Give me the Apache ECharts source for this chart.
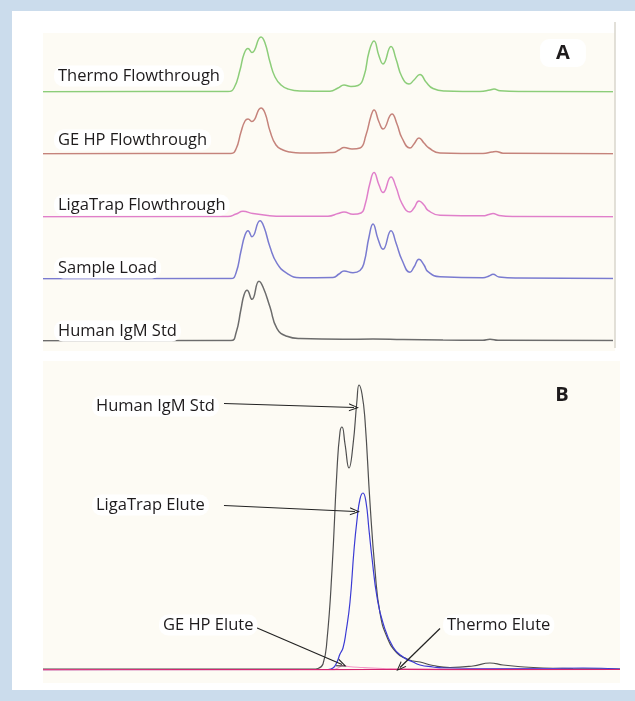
<!DOCTYPE html>
<html>
<head>
<meta charset="utf-8">
<script src="https://cdn.jsdelivr.net/npm/echarts@6/dist/echarts.min.js"></script>
<style>
  html, body { margin: 0; padding: 0; background: #cbdcec; }
  #chart { width: 635px; height: 701px; }
</style>
</head>
<body>
<div id="chart"></div>
<script>
// panel A: flowthrough traces, [time, absorbance]
const thermoFlowthrough = [
  [0, 0.3], [107, 0.5], [185, 0.5], [191, 4], [197, 22], [201, 38], [205, 43.5], [209, 39.5],
  [218, 55], [222, 49], [227, 30], [232, 15], [238, 7], [245, 3], [257, 1],
  [287, 0.8], [295, 4], [301, 7], [308, 5.5], [315, 6.5], [321, 16], [326, 40], [331, 51],
  [336, 36], [340, 28], [348, 45.5], [353, 33], [359, 15], [366, 8], [371, 12],
  [377, 17.5], [383, 10], [390, 3.5], [402, 1], [437, 0.5], [447, 2], [451, 3], [457, 1.2],
  [477, 0.5], [570, 0.3]
];
const gehpFlowthrough = [
  [0, 0.3], [107, 0.5], [188, 0.5], [193, 5], [198, 22], [202, 33], [205, 35], [209, 32.5],
  [218, 46], [222, 41], [227, 23], [233, 9], [240, 4], [247, 2], [257, 1],
  [290, 1.5], [296, 4], [301, 6.5], [309, 5], [317, 6], [323, 19], [328, 38], [331, 44],
  [336, 32], [340, 25], [349, 40], [354, 30], [359, 16], [367, 6], [371, 10],
  [376, 16], [381, 11], [386, 6], [397, 1], [440, 0.5], [449, 2], [453, 2.6], [460, 0.8],
  [570, 0.2]
];
const ligatrapFlowthrough = [
  [0, 0.3], [185, 0.5], [193, 3], [200, 5.7], [210, 3.4], [225, 1.5], [240, 0.8], [285, 0.8],
  [295, 3.5], [301, 5], [310, 2.7], [318, 4], [322, 12], [327, 34], [331, 44.4], [336, 32],
  [340, 24.4], [348, 40], [353, 30], [359, 13.4], [367, 5], [371, 9], [376, 16],
  [381, 12], [385, 6.7], [397, 1.7], [440, 1.2], [446, 2.5], [450, 3.4], [456, 1.5],
  [470, 0.5], [570, 0.3]
];
const sampleLoad = [
  [0, 0.3], [188, 0.5], [193, 6], [198, 28], [202, 44], [205, 48.3], [209, 42.3],
  [217, 58.3], [221, 52], [227, 32], [234, 15.7], [244, 5.7], [257, 1.3], [290, 1.5],
  [296, 5], [301, 8], [310, 6.3], [317, 8.5], [321, 16], [326, 42], [330, 55], [335, 40],
  [340, 29.7], [348, 48.3], [353, 36], [359, 19], [367, 6.7], [371, 12],
  [376, 19.7], [381, 14], [385, 7.3], [397, 2.3], [440, 1.3], [446, 3], [450, 4.7],
  [456, 2], [475, 1], [570, 0.5]
];
const humanIgmStdA = [
  [0, 0.3], [188, 0.5], [193, 8], [198, 32], [201, 46], [204, 50.7], [209, 41.7],
  [216, 59.7], [220, 54], [227, 34], [234, 12.4], [244, 4.7], [257, 2.4], [300, 1.7],
  [330, 2], [360, 1.5], [400, 1], [440, 0.8], [447, 1.8], [455, 0.8], [570, 0.5]
];

// panel B: elution traces
const humanIgmStdB = [
  [0, 0.8], [200, 0.8], [270, 0.8], [275, 1.5], [280, 6], [284, 30], [289, 100], [294, 200],
  [297, 238], [299, 243], [302, 226], [306, 202], [310, 225], [314, 270], [316, 285],
  [319, 276], [322, 250], [327, 167], [332, 100], [337, 57], [344, 33], [354, 17], [364, 11],
  [370, 9], [377, 8], [390, 4.5], [407, 2.5], [430, 4], [447, 7], [460, 5], [475, 3.5],
  [500, 2], [530, 1.5], [577, 1]
];
const ligatrapElute = [
  [0, 0.4], [285, 0.5], [290, 2], [294, 8], [297, 16], [300, 22], [303, 38], [307, 68],
  [311, 120], [314, 150], [317, 171], [320, 177], [323, 168], [326, 140], [329, 112],
  [334, 73], [340, 47], [350, 23], [360, 13], [370, 8], [377, 5], [390, 3], [400, 2],
  [450, 1.5], [500, 1.5], [540, 2], [577, 1]
];
const gehpElute = [
  [0, 0.3], [290, 0.3], [295, 2], [300, 4.5], [305, 3.5], [320, 2.5], [340, 1.5],
  [360, 0.8], [577, 0.5]
];
const thermoElute = [
  [0, 0.2], [150, 0.5], [300, 0.4], [360, 0.6], [450, 0.3], [577, 0.5]
];

const panelALabels = ['Thermo Flowthrough', 'GE HP Flowthrough', 'LigaTrap Flowthrough', 'Sample Load', 'Human IgM Std'];
const panelBLabels = ['Human IgM Std', 'LigaTrap Elute', 'GE HP Elute', 'Thermo Elute'];
// arrows: [label end, pointed peak] in panel B data units
const arrowCoords = [
  [[181, 266.5], [311, 262.5]],
  [[181, 164.5], [312, 158.5]],
  [[213, 42.5], [299, 5.5]],
  [[397, 41.5], [357, 2.5]]
];

const panelA = [thermoFlowthrough, gehpFlowthrough, ligatrapFlowthrough, sampleLoad, humanIgmStdA];
const colorsA = ['#8ccd79', '#c5837b', '#e07fca', '#7a7bd0', '#6c6c6c'];
const baselinesA = [92, 154, 217, 279, 341];

const panelB = [humanIgmStdB, ligatrapElute, gehpElute, thermoElute];
const colorsB = ['#4f4f4f', '#3b3bd4', '#f39ac6', '#d3256f'];

const font = '"Open Sans", "Noto Sans", sans-serif';
const chevron = 'path://M5,0 L10,10 L8.6,10 L5,2.6 L1.4,10 L0,10 Z';

const grids = [];
const xAxes = [];
const yAxes = [];
const series = [];

panelA.forEach((trace, i) => {
  grids.push({ left: 43, width: 570, top: baselinesA[i] - 60, height: 60 });
  xAxes.push({ type: 'value', gridIndex: i, min: 0, max: 570, show: false });
  yAxes.push({ type: 'value', gridIndex: i, min: 0, max: 60, show: false });
  series.push({
    type: 'line', xAxisIndex: i, yAxisIndex: i, data: trace,
    smooth: 0.5, showSymbol: false,
    lineStyle: { color: colorsA[i], width: 1.5 }
  });
});

const bIdx = panelA.length;
grids.push({ left: 43, width: 577, top: 375, height: 295 });
xAxes.push({ type: 'value', gridIndex: bIdx, min: 0, max: 577, show: false });
yAxes.push({ type: 'value', gridIndex: bIdx, min: 0, max: 295, show: false });
panelB.forEach((trace, i) => {
  series.push({
    type: 'line', xAxisIndex: bIdx, yAxisIndex: bIdx, data: trace,
    smooth: 0.5, showSymbol: false,
    lineStyle: { color: colorsB[i], width: 1.2 }
  });
});
// arrows ride on the last panel B series
series[series.length - 1].markLine = {
  silent: true,
  symbol: ['none', chevron],
  symbolSize: [8, 10],
  label: { show: false },
  lineStyle: { color: '#222', width: 1.2, type: 'solid' },
  data: arrowCoords.map(([a, b]) => [{ coord: a }, { coord: b }])
};

const textStyle = (txt, extra) => Object.assign({
  text: txt, font: '16.5px ' + font, fill: '#1e1b1c',
  backgroundColor: '#ffffff', padding: [2, 4], borderRadius: 9,
  verticalAlign: 'middle'
}, extra);

const graphics = [
  { type: 'rect', z: -10, shape: { x: 12, y: 11, width: 623, height: 679 }, style: { fill: '#ffffff' } },
  { type: 'rect', z: -9, shape: { x: 43, y: 33, width: 572, height: 318 }, style: { fill: '#fdfbf4' } },
  { type: 'line', z: -8, shape: { x1: 615, y1: 22, x2: 615, y2: 348 }, style: { stroke: '#d9d6cc', lineWidth: 1.5 } },
  { type: 'rect', z: -9, shape: { x: 43, y: 361, width: 577, height: 322 }, style: { fill: '#fdfbf4' } },
  { type: 'text', z: 50, x: 563, y: 53, style: textStyle('A', { font: 'bold 20px ' + font, align: 'center', padding: [4, 16] }) },
  { type: 'text', z: 50, x: 562, y: 395, style: textStyle('B', { font: 'bold 20px ' + font, align: 'center', backgroundColor: 'transparent' }) }
];
const labelYA = [76, 140, 205, 268, 331];
panelALabels.forEach((txt, i) => {
  graphics.push({ type: 'text', z: 50, x: 54, y: labelYA[i], style: textStyle(txt) });
});
const labelPosB = [[92, 406], [92, 505], [159, 625], [443, 625]];
panelBLabels.forEach((txt, i) => {
  graphics.push({ type: 'text', z: 50, x: labelPosB[i][0], y: labelPosB[i][1], style: textStyle(txt) });
});

const chart = echarts.init(document.getElementById('chart'));
chart.setOption({
  backgroundColor: '#cbdcec',
  animation: false,
  grid: grids,
  xAxis: xAxes,
  yAxis: yAxes,
  series: series,
  graphic: graphics
});
</script>
</body>
</html>
